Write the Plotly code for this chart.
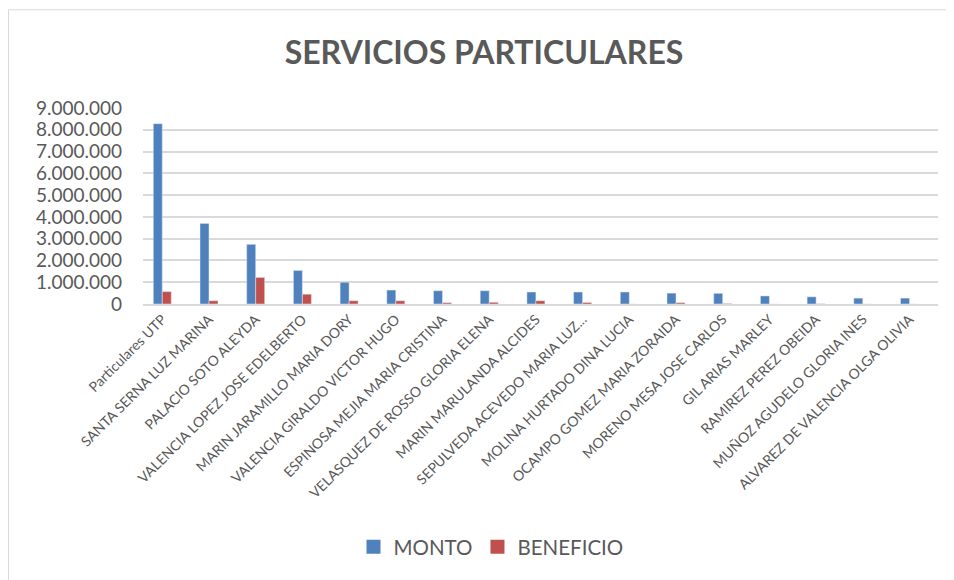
import plotly.graph_objects as go

categories = [
    "Particulares UTP", "SANTA SERNA LUZ MARINA", "PALACIO SOTO ALEYDA",
    "VALENCIA LOPEZ JOSE EDELBERTO", "MARIN JARAMILLO MARIA DORY",
    "VALENCIA GIRALDO VICTOR HUGO", "ESPINOSA MEJIA MARIA CRISTINA",
    "VELASQUEZ DE ROSSO GLORIA ELENA", "MARIN MARULANDA ALCIDES",
    "SEPULVEDA ACEVEDO MARIA LUZ...", "MOLINA HURTADO DINA LUCIA",
    "OCAMPO GOMEZ MARIA ZORAIDA", "MORENO MESA JOSE CARLOS",
    "GIL ARIAS MARLEY", "RAMIREZ PEREZ OBEIDA", "MUÑOZ AGUDELO GLORIA INES",
    "ALVAREZ DE VALENCIA OLGA OLIVIA",
]
monto = [8280000, 3700000, 2740000, 1540000, 1000000, 640000, 610000, 610000,
         550000, 550000, 550000, 500000, 490000, 370000, 330000, 270000, 270000]
beneficio = [570000, 150000, 1220000, 450000, 150000, 150000, 60000, 80000,
             150000, 70000, 0, 60000, 25000, 0, 10000, 0, 0]

TEXT = "#595959"
FONT = "Lato"
BLUE, RED = "#4F81BD", "#C0504D"

# page body adds an 8px offset; measured reference coordinates are shifted by it
OFF = 8
W, H = 954 - OFF, 580 - OFF
L, R, T, B = 143 - OFF, 938 - OFF, 108 - OFF, 304.5 - OFF

fig = go.Figure()
fig.add_trace(go.Bar(name="MONTO", x=categories, y=monto, marker_color=BLUE,
                     showlegend=False))
fig.add_trace(go.Bar(name="BENEFICIO", x=categories, y=beneficio, marker_color=RED,
                     showlegend=False))
# legend entries with larger square symbols
for nm, col in (("MONTO", BLUE), ("BENEFICIO", RED)):
    fig.add_trace(go.Scatter(name=nm, x=[None], y=[None], mode="markers",
                             marker=dict(symbol="square", size=14, color=col),
                             showlegend=True))

fig.update_layout(
    width=W, height=H,
    margin=dict(l=L, r=W - R, t=T, b=H - B, pad=0),
    paper_bgcolor="white", plot_bgcolor="white",
    barmode="group", bargap=0.615, bargroupgap=0,
    separators=",.",
    font=dict(family=FONT, color=TEXT),
    title=dict(text="<b>SERVICIOS PARTICULARES</b>", xref="container",
               x=(484 - OFF) / W, xanchor="center",
               y=1 - (53 - OFF) / H, yanchor="middle",
               font=dict(size=32, color=TEXT, family=FONT)),
    showlegend=True,
    legend=dict(orientation="h", xref="container", x=(491 - OFF) / W, xanchor="center",
                yref="container", y=1 - (547 - OFF) / H, yanchor="middle",
                font=dict(size=20.5, color=TEXT, family=FONT),
                itemwidth=30, traceorder="normal"),
    shapes=[dict(type="rect", xref="paper", yref="paper",
                 x0=(0.5 - L) / (R - L), x1=(W + 5 - L) / (R - L),
                 y0=(B - (H + 5)) / (B - T), y1=(B - 1.5) / (B - T),
                 line=dict(color="#D9D9D9", width=1), fillcolor="rgba(0,0,0,0)",
                 layer="below")],
)
fig.update_xaxes(
    type="category", range=[-0.413, 16.61], tickangle=-45,
    tickfont=dict(size=14, color=TEXT, family=FONT),
    showgrid=False, showline=True, linecolor="#D9D9D9", linewidth=1.5,
    ticks="", zeroline=False,
)
fig.update_yaxes(
    range=[0, 9000000], dtick=1000000, tickformat=",d",
    tickfont=dict(size=19, color=TEXT, family=FONT),
    showgrid=True, gridcolor="#D9D9D9", gridwidth=1.5,
    zeroline=False, showline=False, ticks="", ticklabelstandoff=20,
)

fig.write_html("out.html")
